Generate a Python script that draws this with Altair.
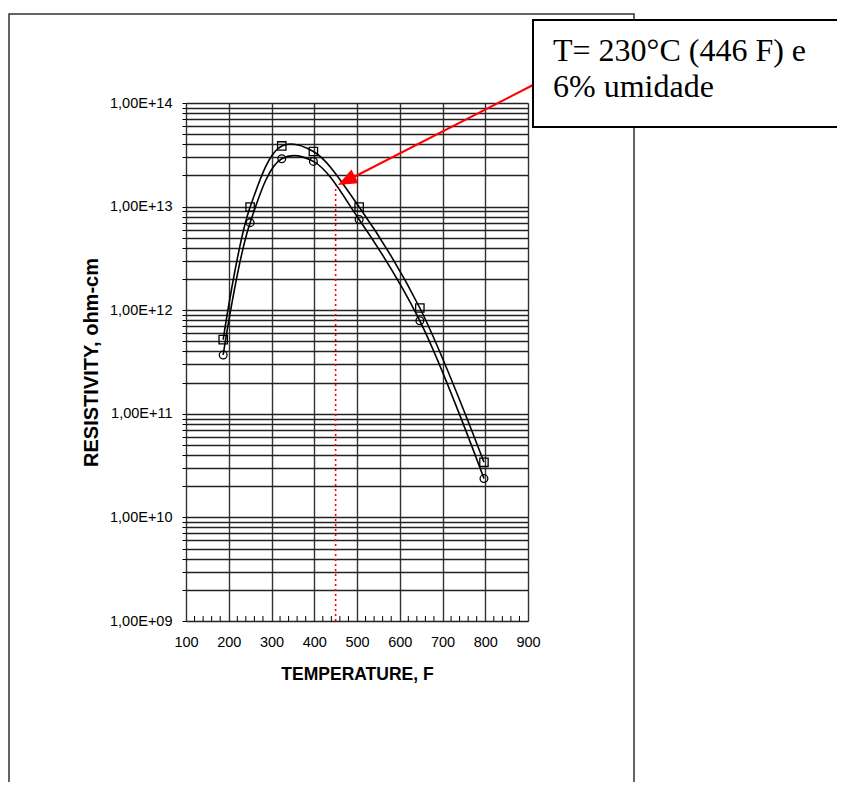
import altair as alt
import pandas as pd

# ---- data ----
temp_sq = [187, 250, 324, 398, 505, 647, 797]
res_sq = [5.2e11, 9.9e12, 3.85e13, 3.4e13, 9.9e12, 1.05e12, 3.4e10]
temp_ci = [187, 250, 324, 398, 505, 647, 797]
res_ci = [3.7e11, 7.0e12, 2.9e13, 2.73e13, 7.5e12, 7.9e11, 2.37e10]

x_major = [100, 200, 300, 400, 500, 600, 700, 800, 900]
x_minor = [v for v in range(120, 900, 20) if v % 100 != 0]
y_grid = [m * 10 ** e for e in range(9, 14) for m in range(1, 10)] + [1e14]

marker_temp = [450]
marker_lo = [1e9]
marker_hi = [1.6e13]

note_lines = ["T= 230°C (446 F) e", "6% umidade"]

W, H = 342, 518

df = pd.DataFrame({
    "temp": temp_sq + temp_ci,
    "res": res_sq + res_ci,
    "series": ["sq"] * len(temp_sq) + ["ci"] * len(temp_ci),
})
one = pd.DataFrame({"a": [0]})

xscale = alt.Scale(domain=[100, 900], nice=False, zero=False)
yscale = alt.Scale(type="log", domain=[1e9, 1e14], nice=False)

xaxis = alt.Axis(
    values=x_major, grid=True, ticks=False, domain=False,
    gridColor="#333", gridWidth=1.4, gridOpacity=1,
    labelFont="Liberation Sans", labelFontSize=14.5, labelColor="black",
    labelPadding=14, labelFlush=False, labelOverlap=False,
    title="TEMPERATURE, F", titleFont="Liberation Sans", titleFontSize=17.5,
    titleFontWeight="bold", titleColor="black", titlePadding=17,
)
yaxis = alt.Axis(
    values=y_grid, grid=True, ticks=True, tickSize=4, tickColor="black",
    tickWidth=1, domain=False,
    gridColor="#222", gridWidth=1.4, gridOpacity=1,
    labelExpr="abs(round(log(datum.value)/LN10) - log(datum.value)/LN10) < 1e-6 ? '1,00E+' + format(round(log(datum.value)/LN10), '02d') : ''",
    labelFont="Liberation Sans", labelFontSize=14.5, labelColor="black",
    labelPadding=10, labelOverlap=False, labelFlush=False,
    title="RESISTIVITY, ohm-cm", titleFont="Liberation Sans", titleFontSize=20,
    titleFontWeight="bold", titleColor="black", titlePadding=8,
)

frame = alt.Chart(one).mark_rect(filled=False, stroke="#333", strokeWidth=1.5).encode(
    x=alt.value(-177), x2=alt.value(448), y=alt.value(-89), y2=alt.value(700)
)

lines = alt.Chart(df).mark_line(interpolate="catmull-rom", color="black", strokeWidth=1.6).encode(
    x=alt.X("temp:Q", scale=xscale, axis=xaxis),
    y=alt.Y("res:Q", scale=yscale, axis=yaxis),
    detail="series:N",
)

squares = alt.Chart(df).transform_filter("datum.series == 'sq'").mark_point(
    shape="square", filled=False, color="black", size=70, strokeWidth=1.3, opacity=1
).encode(x="temp:Q", y="res:Q")

circles = alt.Chart(df).transform_filter("datum.series == 'ci'").mark_point(
    shape="circle", filled=False, color="black", size=60, strokeWidth=1.3, opacity=1
).encode(x="temp:Q", y="res:Q")

minor = alt.Chart(pd.DataFrame({"temp": x_minor})).mark_rule(color="black", strokeWidth=1).encode(
    x="temp:Q", y=alt.value(H), y2=alt.value(H - 5)
)

marker = alt.Chart(pd.DataFrame({"temp": marker_temp, "res": marker_lo, "res2": marker_hi})).mark_rule(
    color="red", strokeDash=[2, 3], strokeWidth=1.6
).encode(x="temp:Q", y="res:Q", y2="res2:Q")

arrow_line = alt.Chart(one).mark_rule(color="red", strokeWidth=2).encode(
    x=alt.value(347), y=alt.value(-18), x2=alt.value(162), y2=alt.value(77)
)
arrow_head = alt.Chart(one).mark_point(
    shape="M0,0 L-0.4,1 L0.4,1 Z", filled=True, color="red", opacity=1,
    size=1450, angle=243, strokeWidth=0
).encode(x=alt.value(152), y=alt.value(82))

box = alt.Chart(one).mark_rect(fill="white", stroke="black", strokeWidth=2).encode(
    x=alt.value(347), x2=alt.value(700), y=alt.value(-83), y2=alt.value(24)
)
txt1 = alt.Chart(one).mark_text(
    align="left", baseline="alphabetic", font="Liberation Serif", fontSize=32, color="black"
).encode(x=alt.value(367), y=alt.value(-42), text=alt.value(note_lines[0]))
txt2 = alt.Chart(one).mark_text(
    align="left", baseline="alphabetic", font="Liberation Serif", fontSize=32, color="black"
).encode(x=alt.value(367), y=alt.value(-6), text=alt.value(note_lines[1]))

chart = alt.layer(
    frame, lines, minor, marker, squares, circles, arrow_line, box, txt1, txt2, arrow_head
).properties(
    width=W, height=H,
    padding={"left": 178, "top": 95, "right": 309, "bottom": 161},
    autosize=alt.AutoSizeParams(type="none"),
).configure_view(stroke="black", strokeWidth=1.5).configure(background="white")

chart.save("out.html", embed_options={"renderer": "svg", "actions": False})
